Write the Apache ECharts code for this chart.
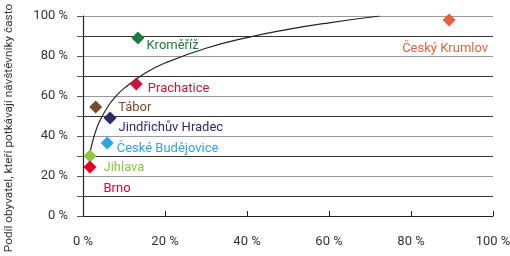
<!DOCTYPE html>
<html>
<head>
<meta charset="utf-8">
<script src="https://cdn.jsdelivr.net/npm/echarts@6/dist/echarts.min.js"></script>
<style>
  html, body { margin: 0; padding: 0; background: #fff; }
  #chart { width: 510px; height: 256px; }
</style>
</head>
<body>
<div id="chart"></div>
<script>
// mesta a jejich hodnoty (podil v %)
var cities = ['Kroměříž', 'Prachatice', 'Tábor', 'Jindřichův Hradec', 'České Budějovice', 'Jihlava', 'Brno', 'Český Krumlov']
var xShare = [13.4, 13, 3.1, 6.6, 5.9, 1.7, 1.7, 89.3]
var yShare = [89, 66, 54.5, 49, 36.5, 30, 24.5, 98]
// logaritmicky trend
var trendX = [1.6, 2, 3, 4, 6, 8, 10, 15, 20, 30, 40, 50, 60, 72.4]
var trendY = [30.3, 34.4, 41.8, 47.1, 54.5, 59.8, 63.8, 71.3, 76.5, 83.9, 89.2, 93.3, 96.6, 100]
var xTicks = [0, 20, 40, 60, 80, 100]
var yTicks = [0, 20, 40, 60, 80, 100]
var yTitle = 'Podíl obyvatel, kteří potkávají návštěvníky často'

var colors = ['#1f7a3f', '#c8183a', '#7b4a2b', '#2b2a6b', '#2aa7e1', '#8dc63f', '#e4002b', '#e9603a']
// posun popisku vuci znacce
var labelOffset = {
  'Kroměříž': [-3, 8],
  'Prachatice': [0, 5],
  'Tábor': [11, 1],
  'Jindřichův Hradec': [-3, 10],
  'České Budějovice': [-2, 6],
  'Jihlava': [2, 12],
  'Brno': [2, 22],
  'Český Krumlov': [-4, 29]
}

var font = 'Roboto, "Liberation Sans", sans-serif'

var points = cities.map(function (c, i) {
  var right = c !== 'Český Krumlov'
  return {
    name: c,
    value: [xShare[i], yShare[i]],
    itemStyle: { color: colors[i], opacity: 1 },
    label: {
      show: true,
      formatter: c,
      position: right ? 'right' : 'inside',
      offset: labelOffset[c],
      color: colors[i],
      fontSize: 13,
      fontFamily: font
    }
  }
})

var trend = trendX.map(function (x, i) { return [x, trendY[i]] })

var option = {
  animation: false,
  grid: { left: 83, right: 17, top: 16, bottom: 40, outerBoundsMode: 'none', containLabel: false },
  // nazev osy y je posunuty dolu oproti stredu grafu
  graphic: [{
    type: 'text',
    x: 9,
    y: 128,
    rotation: Math.PI / 2,
    style: {
      text: yTitle,
      fill: '#333',
      fontSize: 11.8,
      fontFamily: font,
      align: 'center',
      verticalAlign: 'middle'
    }
  }],
  xAxis: {
    type: 'value',
    min: 0,
    max: 100,
    interval: 20,
    axisLine: { show: true, lineStyle: { color: '#222', width: 1.2 } },
    axisTick: { show: true, inside: true, length: 5, lineStyle: { color: '#222' } },
    splitLine: { show: false },
    axisLabel: {
      margin: 19,
      color: '#333',
      fontSize: 13,
      fontFamily: font,
      formatter: function (v) { return xTicks.indexOf(v) >= 0 ? v + ' %' : '' }
    }
  },
  yAxis: {
    type: 'value',
    min: 0,
    max: 100,
    interval: 10,
    axisLine: { show: true, lineStyle: { color: '#222', width: 1.2 } },
    axisTick: { show: true, length: 6, lineStyle: { color: '#555' } },
    splitLine: { show: true, lineStyle: { color: ['#999', '#333'], width: 1 } },
    axisLabel: {
      margin: 15,
      color: '#333',
      fontSize: 13,
      fontFamily: font,
      formatter: function (v) { return yTicks.indexOf(v) >= 0 ? v + ' %' : '' }
    }
  },
  series: [
    {
      type: 'line',
      data: trend,
      smooth: true,
      showSymbol: false,
      silent: true,
      lineStyle: { color: '#222', width: 1.2 },
      z: 2
    },
    {
      type: 'scatter',
      symbol: 'diamond',
      symbolSize: 13,
      data: points,
      z: 3
    }
  ]
}

var myChart = echarts.init(document.getElementById('chart'))
myChart.setOption(option)
</script>
</body>
</html>
